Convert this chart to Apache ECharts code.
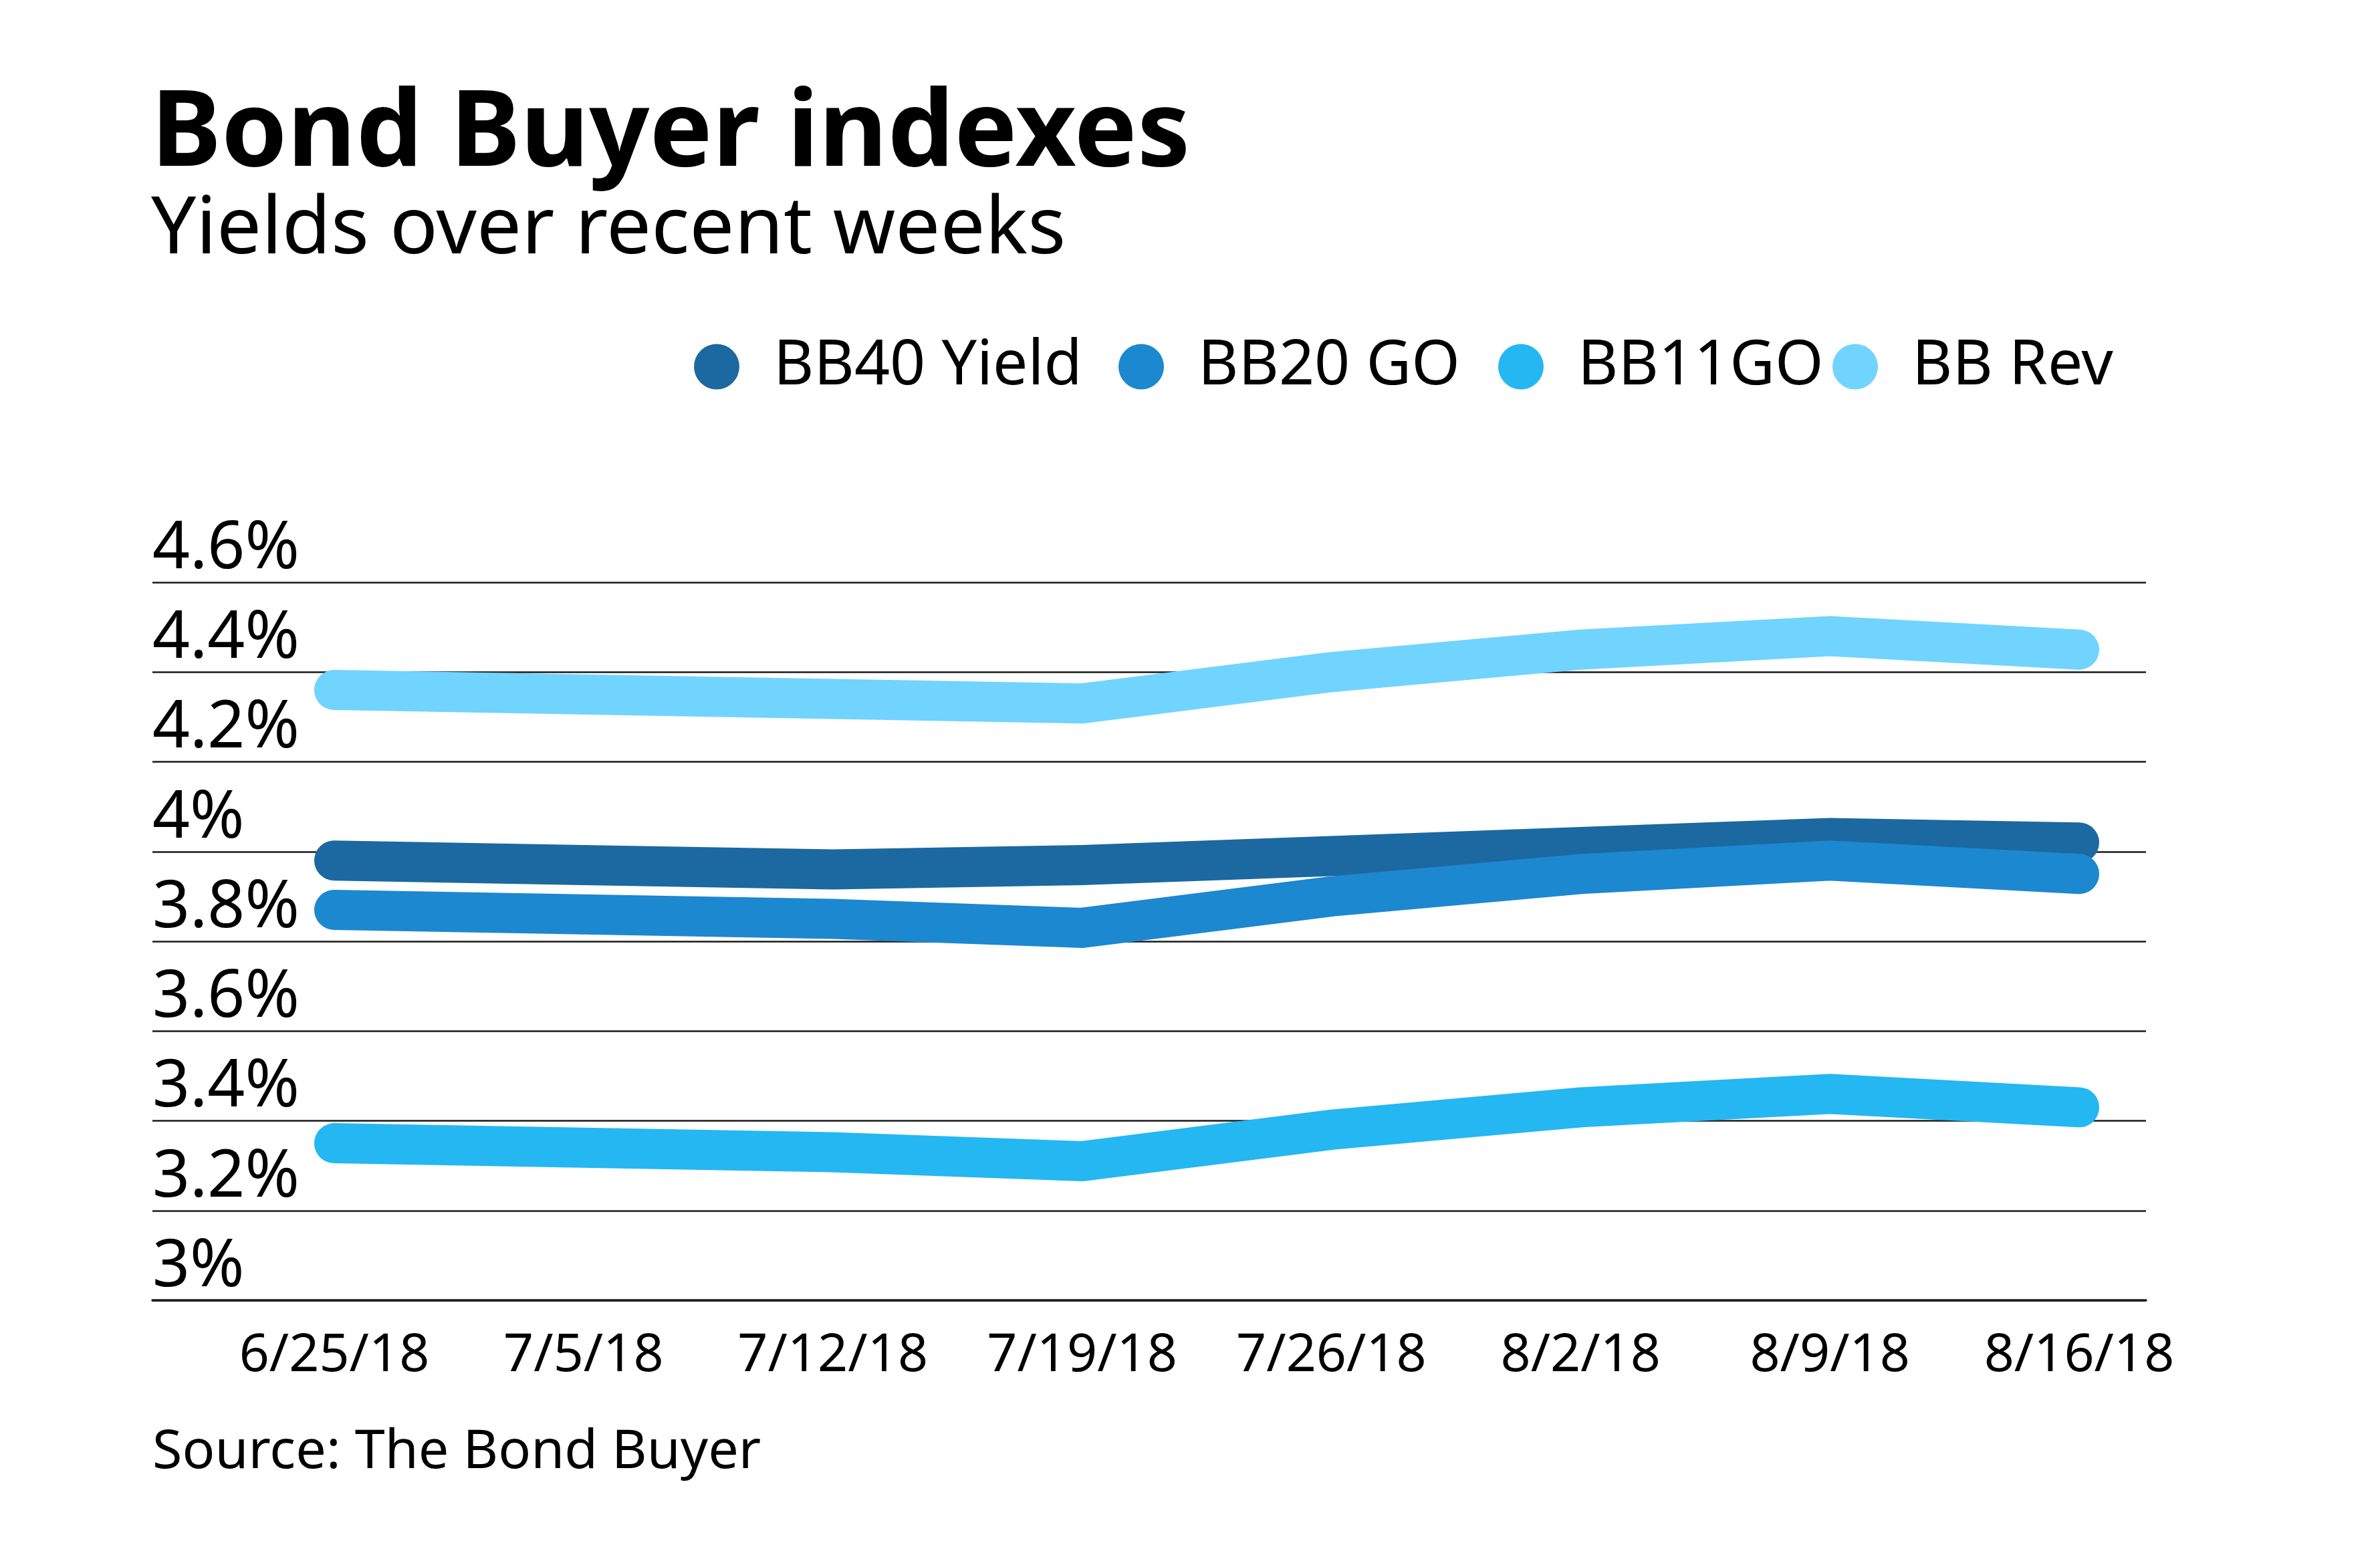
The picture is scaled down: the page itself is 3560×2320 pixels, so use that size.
<!DOCTYPE html>
<html>
<head>
<meta charset="utf-8">
<script src="https://cdn.jsdelivr.net/npm/echarts@6/dist/echarts.min.js"></script>
<style>
html,body{margin:0;padding:0;background:#fff;}
#chart{width:3560px;height:2320px;}
</style>
</head>
<body>
<div id="chart"></div>
<script>
// ---- data ----
const dates = ['6/25/18','7/5/18','7/12/18','7/19/18','7/26/18','8/2/18','8/9/18','8/16/18'];
const seriesNames = ['BB40 Yield','BB20 GO','BB11GO','BB Rev'];
const bb40 = [3.98,3.97,3.96,3.97,3.99,4.01,4.03,4.02];
const bb20 = [3.87,3.86,3.85,3.83,3.90,3.95,3.98,3.95];
const bb11 = [3.35,3.34,3.33,3.31,3.38,3.43,3.46,3.43];
const bbRev = [4.36,4.35,4.34,4.33,4.40,4.45,4.48,4.45];
const yTickValues = [3,3.2,3.4,3.6,3.8,4,4.2,4.4,4.6];
const yTickLabels = ['3%','3.2%','3.4%','3.6%','3.8%','4%','4.2%','4.4%','4.6%'];

const colors = ['#1B69A0','#1C88D0','#24B7F2','#70D4FE'];
const values = [bb40, bb20, bb11, bbRev];
const FONT = 'Noto Sans';

const chart = echarts.init(document.getElementById('chart'), null, {renderer:'canvas'});

const legendLefts = [1038, 1673, 2241, 2741];

const option = {
  backgroundColor: '#fff',
  animation: false,
  title: [
    {text:'Bond Buyer indexes', left:226, top:124, padding:0,
     textStyle:{fontSize:158, fontWeight:'bold', fontFamily:FONT, color:'#000', lineHeight:158}},
    {text:'Yields over recent weeks', left:226, top:286, padding:0,
     textStyle:{fontSize:119, fontWeight:'normal', fontFamily:FONT, color:'#000', lineHeight:119}},
    {text:'Source: The Bond Buyer', left:228, top:2132, padding:0,
     textStyle:{fontSize:81, fontWeight:'normal', fontFamily:FONT, color:'#000', lineHeight:81}}
  ],
  legend: seriesNames.map((n,i)=>({
    data:[n], icon:'circle', itemWidth:68, itemHeight:68, left:legendLefts[i], top:502,
    padding:0, selectedMode:false, itemStyle:{borderWidth:0},
    textStyle:{fontSize:93, fontFamily:FONT, color:'#000', padding:[0,0,0,46]}
  })),
  grid: [
    {left:228, right:350, top:871, bottom:375, containLabel:false},
    {left:500, right:450, top:871, bottom:375, containLabel:false}
  ],
  xAxis: [
    {gridIndex:0, type:'value', min:0, max:1,
     axisLine:{show:true, onZero:false, lineStyle:{color:'#1a1a1a', width:3.5}},
     axisTick:{show:false}, axisLabel:{show:false}, splitLine:{show:false}},
    {gridIndex:1, type:'category', data:dates, boundaryGap:false,
     axisLine:{show:false}, axisTick:{show:false},
     axisLabel:{interval:0, fontSize:79, fontFamily:FONT, color:'#000', margin:44}}
  ],
  yAxis: [
    {gridIndex:0, type:'value', min:3, max:4.6, interval:0.2,
     axisLine:{show:false}, axisTick:{show:false},
     splitLine:{show:true, lineStyle:{color:'#1a1a1a', width:2.5}},
     axisLabel:{inside:true, margin:0, verticalAlign:'bottom', align:'left',
       fontSize:98, fontFamily:FONT, color:'#000',
       formatter:(v)=>{const i=yTickValues.findIndex(t=>Math.abs(t-v)<1e-6); return i>=0?yTickLabels[i]:'';}}},
    {gridIndex:1, type:'value', min:3, max:4.6, interval:0.2, show:false}
  ],
  series: seriesNames.map((n,i)=>({
    name:n, type:'line', xAxisIndex:1, yAxisIndex:1, data:values[i],
    showSymbol:false, symbol:'circle', silent:true,
    itemStyle:{color:colors[i]},
    lineStyle:{color:colors[i], width:60, cap:'round', join:'miter'}
  }))
};
chart.setOption(option);
</script>
</body>
</html>
